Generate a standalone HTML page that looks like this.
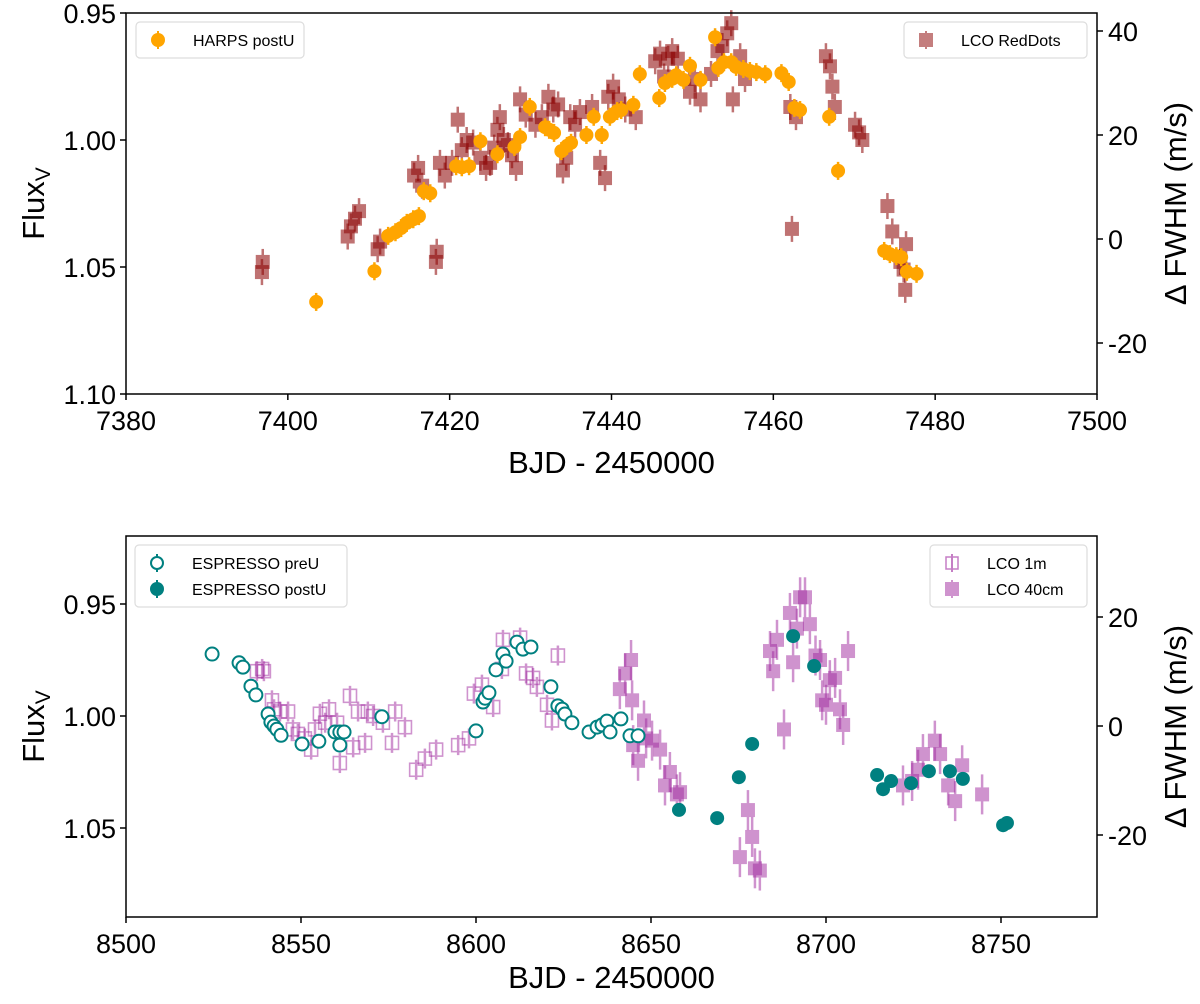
<!DOCTYPE html>
<html><head><meta charset="utf-8"><style>
html,body{margin:0;padding:0;background:#fff;}
svg{display:block;font-family:"Liberation Sans","DejaVu Sans",sans-serif;}
</style></head><body>
<svg id="fig" width="1200" height="1004" viewBox="0 0 1200 1004" xmlns="http://www.w3.org/2000/svg"></svg>
<script>
// ---------- TOP PANEL DATA ----------
const harpsT=[7403.5,7410.7,7412.4,7413.3,7414.0,7414.7,7415.5,7416.2,7416.8,7417.6,7420.8,7421.5,7422.4,7423.8,7425.9,7428.0,7428.7,7429.9,7431.8,7432.3,7432.9,7433.8,7434.5,7435.0,7436.9,7437.8,7438.8,7439.8,7440.7,7441.2,7442.7,7443.5,7445.9,7446.6,7447.5,7448.0,7448.9,7449.7,7451.0,7452.8,7453.2,7453.9,7454.8,7455.4,7456.3,7457.1,7457.9,7459.0,7461.0,7461.9,7462.6,7463.3,7466.9,7468.0,7473.7,7474.4,7475.2,7475.8,7476.5,7477.7];
const harpsV=[-12.1,-6.2,0.6,1.3,2.1,3.1,3.8,4.4,9.2,8.8,14.0,13.8,14.0,18.8,16.3,17.7,19.6,25.4,21.5,21.0,20.4,16.9,17.9,18.5,20.0,23.5,20.0,23.5,24.6,24.8,25.8,31.7,27.1,30.0,30.8,31.5,30.6,33.3,30.6,38.8,32.9,34.0,34.0,33.1,32.7,32.3,32.1,31.7,31.9,30.2,25.2,24.8,23.5,13.1,-2.3,-2.9,-3.3,-3.5,-6.3,-6.7];
const redT=[7396.8,7396.9,7407.4,7407.8,7408.3,7408.8,7411.1,7411.4,7415.6,7416.1,7416.6,7418.3,7418.4,7418.8,7419.4,7420.3,7421.0,7421.5,7422.1,7422.9,7423.8,7424.5,7425.0,7425.5,7425.9,7426.2,7426.7,7427.2,7427.7,7428.2,7428.7,7429.4,7430.6,7431.4,7432.2,7432.8,7433.4,7434.0,7434.4,7434.9,7435.5,7436.1,7437.6,7438.6,7439.2,7439.6,7440.2,7440.9,7441.7,7443.0,7445.4,7446.0,7446.5,7447.0,7447.5,7448.2,7449.7,7450.3,7451.0,7452.3,7453.1,7453.7,7454.3,7454.8,7455.0,7455.9,7456.5,7462.1,7462.8,7462.3,7466.5,7467.0,7467.3,7467.6,7470.1,7470.6,7471.0,7474.1,7474.7,7475.7,7476.1,7476.4,7476.3];
const redF=[1.052,1.048,1.038,1.034,1.031,1.028,1.043,1.040,1.014,1.011,1.018,1.048,1.044,1.009,1.014,1.009,0.992,1.004,1.000,1.001,1.007,1.011,1.009,1.003,0.996,0.991,1.000,1.002,1.006,1.011,0.984,0.990,0.994,0.991,0.983,0.988,0.986,1.012,1.007,0.991,0.994,0.989,0.987,1.009,1.015,0.983,0.979,0.984,0.988,0.991,0.969,0.966,0.975,0.968,0.965,0.968,0.981,0.976,0.984,0.974,0.965,0.963,0.958,0.954,0.984,0.967,0.976,0.987,0.991,1.035,0.967,0.971,0.979,0.987,0.994,0.997,1.000,1.026,1.036,1.048,1.051,1.041,1.059];
const topXTicks=[7380,7400,7420,7440,7460,7480,7500];
const topLTicks=[0.95,1.00,1.05,1.10];
const topLLabels=["0.95","1.00","1.05","1.10"];
const topRTicks=[40,20,0,-20];
// ---------- BOTTOM PANEL DATA ----------
const preT=[8524.6,8532.3,8533.4,8535.7,8537.1,8540.6,8541.4,8542.3,8543.1,8544.3,8550.3,8555.1,8559.7,8561.1,8562.3,8561.1,8573.1,8600.0,8602.0,8602.6,8603.7,8605.7,8607.7,8608.6,8611.7,8613.4,8615.7,8621.4,8623.4,8624.6,8625.4,8627.4,8632.3,8634.6,8636.0,8637.4,8638.3,8641.4,8644.0,8646.3];
const preV=[13.2,11.6,10.8,7.3,5.7,2.2,0.7,0.0,-0.6,-1.7,-3.3,-2.8,-1.1,-1.1,-1.1,-3.5,1.7,-0.9,4.4,5.1,6.1,10.3,13.2,11.9,15.4,14.1,14.5,7.2,3.7,3.1,2.2,0.6,-1.1,-0.2,0.2,0.9,-1.1,1.3,-1.8,-1.8];
const postT=[8658.0,8668.9,8675.1,8678.9,8690.6,8696.6,8714.6,8716.3,8718.6,8724.3,8729.4,8735.4,8739.1,8750.6,8751.7];
const postV=[-15.4,-16.9,-9.4,-3.3,16.5,11.0,-9.0,-11.6,-10.1,-10.5,-8.3,-8.3,-9.7,-18.2,-17.8];
const m1T=[8537.4,8538.9,8539.4,8541.7,8542.3,8544.0,8546.3,8547.7,8549.1,8551.1,8552.9,8554.0,8555.4,8556.9,8558.0,8560.3,8561.1,8564.0,8564.9,8566.3,8568.3,8569.1,8570.6,8573.4,8576.0,8576.9,8579.7,8582.9,8585.4,8588.6,8594.9,8598.0,8599.4,8601.7,8604.9,8607.4,8607.7,8612.6,8614.3,8616.3,8617.4,8620.3,8621.7,8623.4];
const m1F=[0.980,0.979,0.980,0.993,0.997,0.998,0.998,1.006,1.008,1.010,1.015,1.006,0.999,1.003,0.997,1.003,1.021,0.991,1.014,0.998,1.012,0.998,1.000,1.003,1.012,0.998,1.005,1.024,1.019,1.015,1.013,1.010,0.990,0.986,0.996,0.979,0.966,0.965,0.981,0.983,0.987,0.995,1.002,0.973];
const c40T=[8641.1,8642.6,8644.3,8644.6,8644.9,8646.3,8648.0,8648.6,8650.3,8652.6,8654.0,8655.4,8657.4,8658.3,8675.4,8677.7,8678.9,8679.7,8681.1,8684.0,8684.9,8686.0,8688.0,8689.7,8690.6,8691.7,8692.6,8694.0,8695.4,8697.0,8698.3,8698.9,8700.0,8701.1,8702.6,8704.0,8704.9,8706.3,8722.0,8724.6,8726.3,8727.7,8731.1,8732.6,8734.9,8736.9,8738.9,8744.6];
const c40F=[0.988,0.981,0.975,0.993,1.013,1.020,1.002,1.010,1.011,1.015,1.031,1.025,1.035,1.034,1.063,1.042,1.054,1.068,1.069,0.971,0.980,0.966,1.006,0.954,0.976,0.961,0.947,0.947,0.959,0.973,0.975,0.993,0.995,0.984,0.983,0.997,1.004,0.971,1.031,1.029,1.024,1.017,1.011,1.017,1.031,1.038,1.022,1.035];
const botXTicks=[8500,8550,8600,8650,8700,8750];
const botLTicks=[0.95,1.00,1.05];
const botLLabels=["0.95","1.00","1.05"];
const botRTicks=[20,0,-20];

// ---------- AXES ----------
const NS="http://www.w3.org/2000/svg";
const svg=document.getElementById('fig');
function mk(tag,attrs,parent){const e=document.createElementNS(NS,tag);for(const k in attrs)e.setAttribute(k,attrs[k]);(parent||svg).appendChild(e);return e;}
const L=126,R=1097;
const tx=t=>L+(t-7380)*(R-L)/120;
const tyL=f=>13+(f-0.95)*(394-13)/0.15;
const tyR=v=>31+(40-v)*5.2;
const bx=t=>L+(t-8500)*3.5;
const byL=f=>604+(f-0.95)*2240;
const byR=v=>726-v*5.45;

function panel(name,top,bot,xTicks,xf,lTicks,lLabels,lf,rTicks,rf,xlabY){
  const g=mk('g',{});
  
  
  xTicks.forEach(t=>{const x=xf(t);
    const tk=mk('line',{x1:x,x2:x,y1:bot,y2:bot+6,stroke:'#000','stroke-width':1.5},g);
    
    const lb=mk('text',{x:x,y:bot+36,'text-anchor':'middle','font-size':27},g);lb.textContent=t;
    });
  lTicks.forEach((f,i)=>{const y=lf(f);
    const tk=mk('line',{x1:L-6,x2:L,y1:y,y2:y,stroke:'#000','stroke-width':1.5},g);
    
    const lb=mk('text',{x:L-10,y:y+10,'text-anchor':'end','font-size':27},g);lb.textContent=lLabels[i];
    });
  rTicks.forEach(v=>{const y=rf(v);
    const tk=mk('line',{x1:R,x2:R+6,y1:y,y2:y,stroke:'#000','stroke-width':1.5},g);
    
    const lb=mk('text',{x:R+11,y:y+10,'text-anchor':'start','font-size':27},g);lb.textContent=v;
    });
  const xl=mk('text',{x:(L+R)/2,y:xlabY,'text-anchor':'middle','font-size':31},g);xl.textContent='BJD - 2450000';
  
  const cy=(top+bot)/2;
  const yl=mk('text',{x:0,y:0,'text-anchor':'middle','font-size':31,transform:`translate(44,${cy}) rotate(-90)`},g);
  yl.innerHTML='Flux<tspan font-size="21" dy="6">V</tspan>';
  
  const yr=mk('text',{x:0,y:0,'text-anchor':'middle','font-size':31,transform:`translate(1186,${cy}) rotate(-90)`},g);
  yr.textContent='\u0394 FWHM (m/s)';
  
}
panel('top-axes',13,394,topXTicks,tx,topLTicks,topLLabels,tyL,topRTicks,tyR,473);
panel('bottom-axes',536,917,botXTicks,bx,botLTicks,botLLabels,byL,botRTicks,byR,988);

function squares(T,Y,xf,yf,err,fill,stroke,op,name){
  T.forEach((t,i)=>{const x=xf(t),y=yf(Y[i]);
    const g=mk('g',{opacity:op});
    
    
    mk('line',{x1:x,x2:x,y1:y-err,y2:y+err,stroke:stroke,'stroke-width':2.5},g);
    if(fill==='none') mk('rect',{x:x-6.5,y:y-6.5,width:13,height:13,fill:'none',stroke:stroke,'stroke-width':1.6},g);
    else mk('rect',{x:x-7,y:y-7,width:14,height:14,fill:fill},g);
  });
}
function circles(T,V,xf,yf,err,fill,stroke,name){
  T.forEach((t,i)=>{const x=xf(t),y=yf(V[i]);
    const g=mk('g',{});
    
    
    mk('line',{x1:x,x2:x,y1:y-err,y2:y+err,stroke:stroke,'stroke-width':2.5},g);
    mk('circle',{cx:x,cy:y,r:fill==='#fff'?6.5:7,fill:fill,stroke:stroke,'stroke-width':fill==='#fff'?2:0},g);
  });
}
// top series
squares(redT,redF,tx,tyL,13,'#8b0000','#8b0000',0.55,'lco-reddots-point');
circles(harpsT,harpsV,tx,tyR,9,'#ffa500','#ffa500','harps-postu-point');
// bottom series
squares(m1T,m1F,bx,byL,10,'none','#a02a9f',0.5,'lco-1m-point');
squares(c40T,c40F,bx,byL,20,'#a02a9f','#a02a9f',0.5,'lco-40cm-point');
circles(preT,preV,bx,byR,6,'#fff','#008080','espresso-preu-point');
circles(postT,postV,bx,byR,6,'#008080','#008080','espresso-postu-point');

// frames
[[13,394,'top-plot-frame'],[536,917,'bottom-plot-frame']].forEach(([a,b,n])=>{
  const r=mk('rect',{x:L,y:a,width:R-L,height:b-a,fill:'none',stroke:'#000','stroke-width':1.5});
  
});

// legends
function legend(x,y,w,entries,name){
  const g=mk('g',{});
  
  
  mk('rect',{x:x,y:y,width:w,height:entries.length*26+10,rx:4,fill:'#fff',stroke:'#ddd','stroke-width':1.2},g);
  entries.forEach((e,i)=>{const cy=y+18+i*26,mx=x+22;
    const eg=mk('g',{},g);
    
    
    if(e.k==='circle'){mk('line',{x1:mx,x2:mx,y1:cy-9,y2:cy+9,stroke:e.c,'stroke-width':2},eg);
      mk('circle',{cx:mx,cy:cy,r:e.f==='#fff'?6:7,fill:e.f,stroke:e.c,'stroke-width':e.f==='#fff'?2:0},eg);}
    else{const gg=mk('g',{opacity:e.o},eg);mk('line',{x1:mx,x2:mx,y1:cy-9,y2:cy+9,stroke:e.c,'stroke-width':2},gg);
      if(e.f==='none')mk('rect',{x:mx-6,y:cy-6,width:12,height:12,fill:'none',stroke:e.c,'stroke-width':1.5},gg);
      else mk('rect',{x:mx-7,y:cy-7,width:14,height:14,fill:e.c},gg);}
    const t=mk('text',{x:x+57,y:cy+6,'font-size':16},eg);t.textContent=e.t;});
}
legend(136,22,168,[{k:'circle',c:'#ffa500',f:'#ffa500',t:'HARPS postU'}],'legend-top-left');
legend(904,22,183,[{k:'sq',c:'#8b0000',f:'#8b0000',o:0.5,t:'LCO RedDots'}],'legend-top-right');
legend(135,545,212,[{k:'circle',c:'#008080',f:'#fff',t:'ESPRESSO preU'},{k:'circle',c:'#008080',f:'#008080',t:'ESPRESSO postU'}],'legend-bottom-left');
legend(930,545,157,[{k:'sq',c:'#a02a9f',f:'none',o:0.6,t:'LCO 1m'},{k:'sq',c:'#a02a9f',f:'#a02a9f',o:0.5,t:'LCO 40cm'}],'legend-bottom-right');
</script>
</body></html>
